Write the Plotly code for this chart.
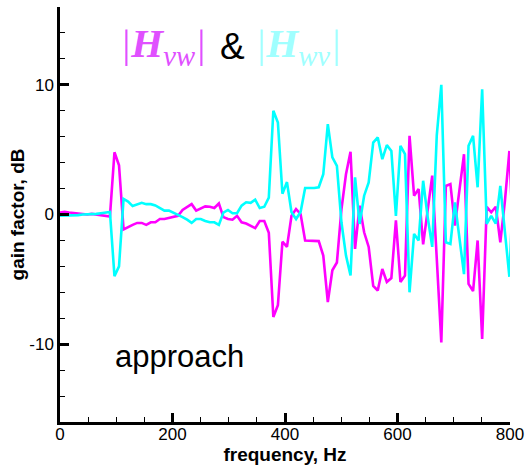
import plotly.graph_objects as go

# ---------------- data ----------------
FREQ_STEP_HZ = 8.07
N_POINTS = 101
freq_hz = [round(FREQ_STEP_HZ * k, 2) for k in range(N_POINTS)]

h_vw_db = [
    0.15, 0.2, 0.15, 0.1, 0.1, 0.05, 0.0, 0.05, 0.0, -0.05,
    -0.1, -0.15, 4.8, 3.8, -1.15, -0.95, -0.8, -0.65, -0.65, -0.8,
    -0.6, -0.6, -0.35, -0.35, -0.25, -0.2, -0.1, 0.35, 0.6, 0.8,
    0.3, 0.45, 0.63, 0.6, 0.5, 0.85, -0.2, -0.35, -0.4, -0.1,
    -0.6, -0.7, -0.85, -1.05, -0.5, -0.5, -1.4, -7.9, -7.0, -2.1,
    -2.5, -0.1, 0.42, 0.04, -2.0, -2.0, -2.05, -2.05, -3.17, -6.75,
    -4.3, -3.7, 0.4, 3.1, 4.83, -2.65, 0.68, -1.37, -2.5, -5.5,
    -5.86, -4.2, -5.2, -4.9, -0.45, -5.2, -4.7, 6.06, 1.45, 1.96,
    -2.3, 0.4, 3.0, -3.4, -9.87, 2.2, 2.35, -0.86, 2.0, 4.65,
    -5.35, -5.9, -2.0, -9.6, 0.6, 0.17, 0.6, -2.14, 1.0, 4.9,
    -3.4,
]

h_wv_db = [
    -0.1, -0.1, -0.1, -0.05, -0.05, 0.0, 0.0, 0.0, 0.05, 0.1,
    0.15, 0.2, -4.75, -4.0, 1.2, 1.0, 0.65, 0.8, 0.9, 0.8,
    0.8, 0.7, 0.5, 0.3, 0.3, 0.15, 0.0, -0.2, -0.4, -0.65,
    -0.35, -0.35, -0.5, -0.6, -0.6, -0.8, 0.15, 0.35, 0.1, 0.1,
    0.68, 0.94, 0.9, 1.14, 0.5, 0.6, 1.3, 8.0, 7.1, 1.6,
    2.5, 0.17, -0.35, 0.2, 2.04, 2.04, 2.04, 2.1, 3.1, 6.96,
    4.4, 3.75, -0.6, -3.17, -4.7, 2.86, -0.73, 1.45, 2.47, 5.55,
    5.94, 4.27, 5.35, 4.9, -0.1, 5.3, 4.65, -6.0, -1.5, -2.0,
    2.6, -0.2, -2.5, 6.1, 10.0, -2.14, -2.27, 0.94, -1.8, -4.6,
    5.3, 6.06, 2.1, 9.65, -0.73, -0.1, -0.7, 2.2, -1.3, -4.8,
    3.5,
]

x_tick_vals = [0, 200, 400, 600, 800]
x_tick_text = ["0", "200", "400", "600", "800"]
y_tick_vals = [-10, 0, 10]
y_tick_text = ["-10", "0", "10"]

x_title = "frequency, Hz"
y_title = "gain factor, dB"
note_text = "approach"

# ---------------- styling ----------------
MAGENTA = "#FF00FF"
CYAN = "#00FFFF"
SANS = "Liberation Sans, Arial, sans-serif"
SERIF = "Liberation Serif, Times New Roman, serif"

fig = go.Figure()
fig.add_trace(go.Scatter(x=freq_hz, y=h_vw_db, mode="lines", name="|H_vw|",
                         line=dict(color=MAGENTA, width=2.6)))
fig.add_trace(go.Scatter(x=freq_hz, y=h_wv_db, mode="lines", name="|H_wv|",
                         line=dict(color=CYAN, width=2.6)))

axis_common = dict(
    showline=True, linecolor="black", linewidth=2.5, mirror=False,
    showgrid=False, zeroline=False,
    ticks="inside", tickcolor="black", tickwidth=2.5, ticklen=9,
    tickfont=dict(family=SANS, size=17, color="black"),
)

fig.update_xaxes(
    range=[0, 800], tickvals=x_tick_vals, ticktext=x_tick_text,
    ticklabelstandoff=-5,
    minor=dict(dtick=50, ticks="inside", ticklen=5, tickwidth=1.2, tickcolor="black"),
    title=dict(text="<b>" + x_title + "</b>", font=dict(family=SANS, size=19, color="black"), standoff=3),
    **axis_common,
)
fig.update_yaxes(
    range=[-16, 16], tickvals=y_tick_vals, ticktext=y_tick_text,
    minor=dict(dtick=2, ticks="inside", ticklen=5, tickwidth=1.2, tickcolor="black"),
    title=dict(text="<b>" + y_title + "</b>", font=dict(family=SANS, size=19, color="black"), standoff=0),
    **axis_common,
)

annotations = [
    dict(text="<i>|<b>H</b><sub>vw</sub>|</i>", x=0.128, y=0.905, xref="paper", yref="paper",
         xanchor="left", yanchor="middle", showarrow=False,
         font=dict(family=SERIF, size=41, color="#E050FF")),
    dict(text="&amp;", x=0.350, y=0.905, xref="paper", yref="paper",
         xanchor="left", yanchor="middle", showarrow=False,
         font=dict(family=SANS, size=37, color="black")),
    dict(text="<i>|<b>H</b><sub>wv</sub>|</i>", x=0.428, y=0.905, xref="paper", yref="paper",
         xanchor="left", yanchor="middle", showarrow=False,
         font=dict(family=SERIF, size=41, color="#A0FFFF")),
    dict(text=note_text, x=0.118, y=0.157, xref="paper", yref="paper",
         xanchor="left", yanchor="middle", showarrow=False,
         font=dict(family=SANS, size=31, color="black")),
]

fig.update_layout(
    width=527, height=465,
    margin=dict(l=60, r=17, t=7, b=43, autoexpand=False),
    paper_bgcolor="white", plot_bgcolor="white",
    showlegend=False,
    annotations=annotations,
)

fig.write_html("out.html", config={"displayModeBar": False},
               post_script="document.body.style.margin='0';")
